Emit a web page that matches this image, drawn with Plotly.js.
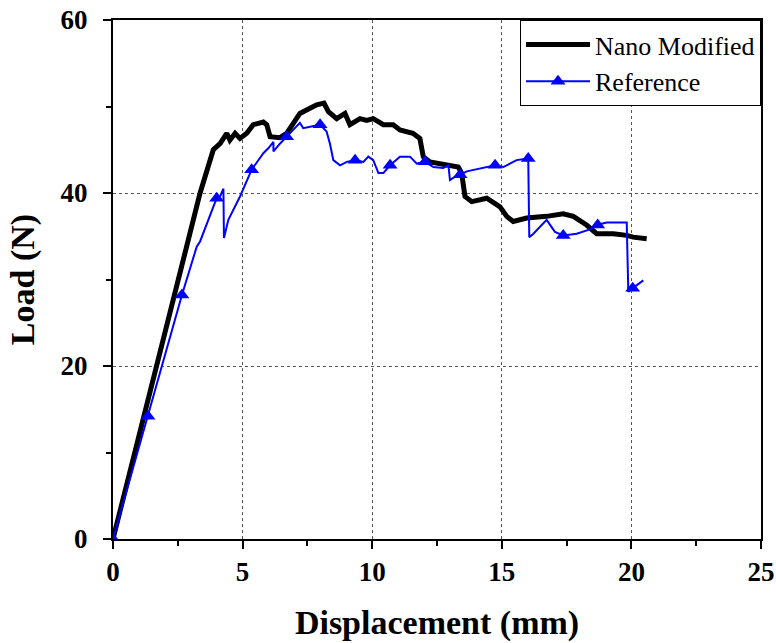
<!DOCTYPE html>
<html>
<head>
<meta charset="utf-8">
<script src="https://cdn.plot.ly/plotly-3.0.1.min.js"></script>
<style>html,body{margin:0;padding:0;background:#fff;}#chart{width:776px;height:643px;}</style>
</head>
<body>
<div id="chart"></div>
<script>
// Nano Modified series
var nanoX = [0, 1.3, 2.58, 3.36, 3.87, 4.13, 4.39, 4.51, 4.71, 4.90, 5.16, 5.41, 5.80, 5.93, 6.06, 6.44, 6.70, 7.21, 7.60, 7.86, 8.14, 8.31, 8.63, 8.95, 9.14, 9.53, 9.79, 10.04, 10.43, 10.81, 11.07, 11.57, 11.84, 11.97, 12.23, 12.62, 13.32, 13.45, 13.58, 13.84, 14.16, 14.42, 14.93, 15.19, 15.44, 15.96, 16.73, 17.37, 17.76, 18.27, 18.66, 19.30, 19.82, 20.07, 20.59];
var nanoY = [0, 15.5, 31.1, 40.0, 45.0, 45.7, 46.9, 46.1, 46.9, 46.3, 46.9, 47.9, 48.2, 47.9, 46.5, 46.4, 46.9, 49.2, 49.8, 50.2, 50.4, 49.4, 48.6, 49.2, 47.9, 48.6, 48.4, 48.6, 47.9, 47.9, 47.3, 46.9, 46.3, 44.2, 43.6, 43.4, 43.0, 42.3, 39.6, 39.0, 39.2, 39.4, 38.4, 37.3, 36.7, 37.1, 37.3, 37.6, 37.3, 36.3, 35.3, 35.3, 35.1, 34.9, 34.7];

// Reference series
var refX = [0, 1.35, 2.66, 3.23, 3.36, 3.87, 4.0, 4.13, 4.26, 4.28, 4.45, 4.90, 5.35, 5.80, 6.0, 6.19, 6.19, 6.44, 6.70, 6.96, 7.21, 7.34, 7.73, 7.99, 8.24, 8.37, 8.50, 8.76, 9.02, 9.34, 9.66, 9.85, 10.04, 10.24, 10.43, 10.69, 11.07, 11.46, 11.72, 12.04, 12.36, 12.74, 12.94, 13.0, 13.2, 13.39, 13.65, 14.29, 14.74, 15.06, 15.57, 16.02, 16.06, 16.22, 16.73, 17.05, 17.37, 17.89, 18.4, 18.66, 19.05, 19.82, 19.88, 20.05, 20.46];
var refY = [0, 14.2, 28.2, 33.8, 34.4, 38.4, 39.4, 39.6, 40.5, 34.8, 36.9, 39.6, 42.7, 44.6, 45.2, 45.9, 44.8, 45.7, 46.5, 47.3, 48.1, 47.5, 47.7, 47.9, 47.1, 45.7, 43.8, 43.2, 43.6, 43.8, 43.6, 44.2, 43.8, 42.3, 42.3, 43.2, 44.2, 44.2, 43.4, 43.6, 43.0, 42.9, 43.2, 41.5, 41.9, 42.1, 42.5, 42.9, 43.2, 43.0, 43.8, 44.0, 34.9, 35.3, 36.9, 35.5, 35.1, 35.3, 35.8, 36.3, 36.6, 36.6, 28.6, 29.0, 29.9];

// Reference marker positions
var refMarkX = [0, 1.35, 2.66, 4.0, 5.35, 6.70, 7.99, 9.34, 10.69, 12.04, 13.39, 14.74, 16.02, 17.37, 18.70, 20.05];
var refMarkY = [0, 14.2, 28.2, 39.4, 42.7, 46.5, 47.9, 43.8, 43.2, 43.6, 42.1, 43.2, 44.0, 35.1, 36.3, 29.0];

var seriesNames = ['Nano Modified', 'Reference'];
var xTicks = [0, 5, 10, 15, 20, 25];
var yTicks = [0, 20, 40, 60];

var traces = [
  {x: nanoX, y: nanoY, mode: 'lines', name: seriesNames[0],
   line: {color: '#000000', width: 5}},
  {x: refX, y: refY, mode: 'lines', showlegend: false,
   line: {color: '#0000ff', width: 2}},
  {x: refMarkX, y: refMarkY, mode: 'markers', showlegend: false,
   marker: {symbol: 'triangle-up', size: 13, color: '#0000ff'}},
  {x: [null], y: [null], mode: 'lines+markers', name: seriesNames[1],
   line: {color: '#0000ff', width: 2},
   marker: {symbol: 'triangle-up', size: 13, color: '#0000ff'}}
];

var serif = '"Liberation Serif", "Times New Roman", serif';
var tickFont = {family: serif, size: 27, color: '#000'};
var titleFont = {family: serif, size: 34, color: '#000', weight: 'bold'};
function boldText(v) { return '<b>' + v + '</b>'; }

var layout = {
  width: 776, height: 643,
  margin: {l: 113, r: 15, t: 20, b: 104},
  paper_bgcolor: '#fff', plot_bgcolor: '#fff',
  font: {family: serif, color: '#000'},
  showlegend: true,
  legend: {x: 1, xanchor: 'right', y: 1, yanchor: 'top',
    bgcolor: '#fff', bordercolor: '#000', borderwidth: 1,
    font: {family: serif, size: 26, color: '#000'},
    itemwidth: 64, tracegroupgap: 0},
  xaxis: {range: [0, 25], tickvals: xTicks, ticktext: xTicks.map(boldText),
    showline: true, linecolor: '#000', linewidth: 2, mirror: true,
    ticks: 'outside', ticklen: 8, tickwidth: 2, tickcolor: '#000',
    showgrid: true, gridcolor: '#555', griddash: 'dot', gridwidth: 1,
    zeroline: false, tickfont: tickFont,
    minor: {dtick: 2.5, ticks: 'outside', ticklen: 5, tickwidth: 2, tickcolor: '#000', showgrid: false},
    title: {text: 'Displacement (mm)', font: titleFont, standoff: 24}},
  yaxis: {range: [0, 60], tickvals: yTicks, ticktext: yTicks.map(boldText),
    showline: true, linecolor: '#000', linewidth: 2, mirror: true,
    ticks: 'outside', ticklen: 8, tickwidth: 2, tickcolor: '#000',
    showgrid: true, gridcolor: '#555', griddash: 'dot', gridwidth: 1,
    zeroline: false, tickfont: tickFont, ticklabelstandoff: 10,
    minor: {dtick: 10, ticks: 'outside', ticklen: 5, tickwidth: 2, tickcolor: '#000', showgrid: false},
    title: {text: 'Load (N)', font: titleFont, standoff: 16}}
};

Plotly.newPlot('chart', traces, layout, {displayModeBar: false, staticPlot: true});
</script>
</body>
</html>
